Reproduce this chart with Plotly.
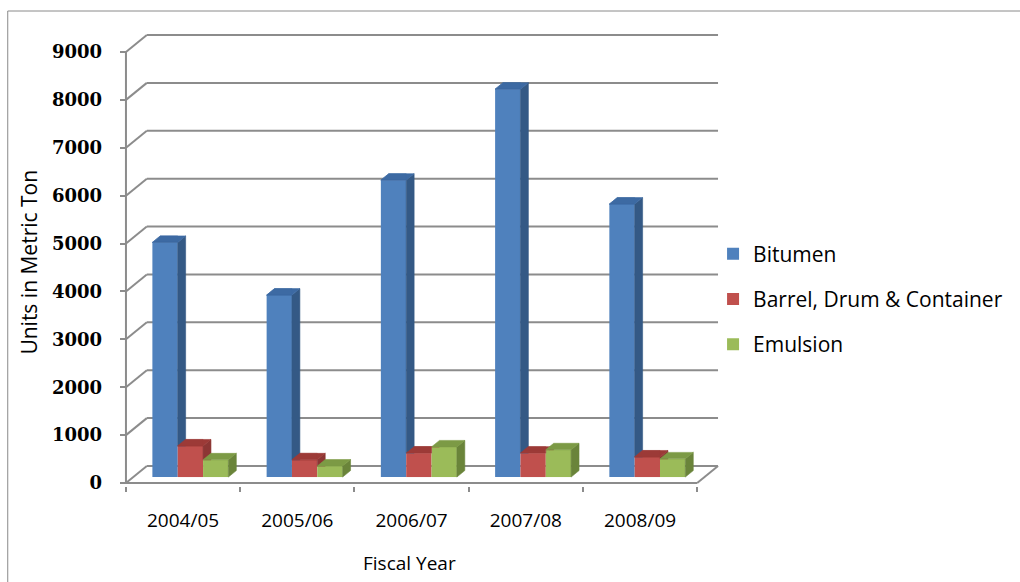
import plotly.graph_objects as go

# ---------------- data ----------------
years = ["2004/05", "2005/06", "2006/07", "2007/08", "2008/09"]
series_names = ["Bitumen", "Barrel, Drum & Container", "Emulsion"]
bitumen = [4900, 3800, 6200, 8100, 5700]
barrel = [650, 360, 500, 500, 420]
emulsion = [360, 230, 630, 570, 380]
y_ticks = [0, 1000, 2000, 3000, 4000, 5000, 6000, 7000, 8000, 9000]

series_values = [bitumen, barrel, emulsion]

# ---------------- style / geometry ----------------
front_col = ["#4F81BD", "#C0504D", "#9BBB59"]
side_col = ["#345985", "#8C3634", "#6A843A"]
top_col = ["#3D6AA3", "#9C3A37", "#7C9A45"]
grid_col = "#8C8C8C"

PX_CAT = 115.0                 # pixels per category
U = 9000.0 / 431.0             # value units per pixel (front plane)
DX = 21.0 / PX_CAT             # full depth offset (x units)
DY = 17.0 * U                  # full depth offset (y units)
F0 = 0.35                      # bar front depth fraction
FD = 0.38                      # bar depth fraction
W = 25.5 / PX_CAT              # bar width
n_cat = len(years)

XMIN, XMAX = -6.0 / PX_CAT, 600.0 / PX_CAT
YMIN, YMAX = -3.0 * U, 453.0 * U

fig = go.Figure()


def clip_half(poly, axis, val, keep_less):
    out = []
    n = len(poly)
    for k in range(n):
        P = poly[k]
        Q = poly[(k + 1) % n]
        pin = P[axis] <= val if keep_less else P[axis] >= val
        qin = Q[axis] <= val if keep_less else Q[axis] >= val
        if pin:
            out.append(P)
        if pin != qin:
            t = (val - P[axis]) / (Q[axis] - P[axis])
            out.append((P[0] + t * (Q[0] - P[0]), P[1] + t * (Q[1] - P[1])))
    return out


def area(poly):
    s = 0.0
    for k in range(len(poly)):
        a = poly[k]
        b = poly[(k + 1) % len(poly)]
        s += a[0] * b[1] - b[0] * a[1]
    return abs(s) / 2


b0 = F0 * DY
dx = FD * DX
dy = FD * DY

# front faces: real bars
for j, (name, vals) in enumerate(zip(series_names, series_values)):
    xs = [i + 0.5 + (j - 1) * W + F0 * DX for i in range(n_cat)]
    fig.add_trace(go.Bar(
        x=xs, y=vals, base=[b0] * n_cat, width=[W] * n_cat,
        name=name, legendgroup=name,
        marker=dict(color=front_col[j], line=dict(width=0)),
        hoverinfo="skip",
    ))

# side and top faces (drawn in painter order)
for j, vals in enumerate(series_values):
    sx, sy, tx, ty = [], [], [], []
    for i in range(n_cat):
        x0 = i + 0.5 + (j - 1.5) * W + F0 * DX
        x1 = x0 + W
        top = b0 + vals[i]
        side = [(x1, b0), (x1 + dx, b0 + dy), (x1 + dx, top + dy), (x1, top)]
        topf = [(x0, top), (x0 + dx, top + dy), (x1 + dx, top + dy), (x1, top)]
        pieces_side = [side]
        pieces_top = [topf]
        if j < len(series_values) - 1:
            ntop = b0 + series_values[j + 1][i]
            nx0 = x1
            pieces_side = [clip_half(side, 1, ntop, False)]
            pieces_top = [clip_half(topf, 0, nx0, True), clip_half(topf, 1, ntop, False)]
        for poly in pieces_side:
            if len(poly) >= 3 and area(poly) > 1e-9:
                sx += [p[0] for p in poly] + [poly[0][0], None]
                sy += [p[1] for p in poly] + [poly[0][1], None]
        for poly in pieces_top:
            if len(poly) >= 3 and area(poly) > 1e-9:
                tx += [p[0] for p in poly] + [poly[0][0], None]
                ty += [p[1] for p in poly] + [poly[0][1], None]
    fig.add_trace(go.Scatter(x=sx, y=sy, mode="lines", fill="toself",
                             fillcolor=side_col[j], line=dict(color=side_col[j], width=0.6),
                             showlegend=False, hoverinfo="skip"))
    fig.add_trace(go.Scatter(x=tx, y=ty, mode="lines", fill="toself",
                             fillcolor=top_col[j], line=dict(color=top_col[j], width=0.6),
                             showlegend=False, hoverinfo="skip"))

# dummy trace for label axis
fig.add_trace(go.Scatter(x=[None], y=[None], xaxis="x2", showlegend=False, hoverinfo="skip"))

# walls / gridlines
shapes = []
for t in y_ticks:
    shapes.append(dict(type="line", xref="x", yref="y", x0=0, y0=t, x1=DX, y1=t + DY,
                       line=dict(color=grid_col, width=2), layer="below"))
    shapes.append(dict(type="line", xref="x", yref="y", x0=DX, y0=t + DY, x1=n_cat + DX, y1=t + DY,
                       line=dict(color=grid_col, width=2), layer="below"))
# floor front edge and right edge
shapes.append(dict(type="line", xref="x", yref="y", x0=0, y0=0, x1=n_cat, y1=0,
                   line=dict(color=grid_col, width=2), layer="below"))
shapes.append(dict(type="line", xref="x", yref="y", x0=n_cat, y0=0, x1=n_cat + DX, y1=DY,
                   line=dict(color=grid_col, width=2), layer="below"))
# front vertical axis line
shapes.append(dict(type="line", xref="x", yref="y", x0=0, y0=0, x1=0, y1=y_ticks[-1],
                   line=dict(color=grid_col, width=2), layer="below"))
# chart border
shapes.append(dict(type="rect", xref="paper", yref="paper", x0=(7 - 120) / 606.0, x1=2.0,
                   y0=-0.5, y1=(486 - 11) / 456.0, line=dict(color="#8A8A8A", width=1),
                   fillcolor="rgba(0,0,0,0)", layer="below"))

sans = "Open Sans"

fig.update_layout(
    width=1020, height=582,
    margin=dict(l=120, r=294, t=30, b=96),
    paper_bgcolor="white", plot_bgcolor="white",
    barmode="overlay",
    shapes=shapes,
    showlegend=True,
    legend=dict(x=(717 - 120) / 606.0, xanchor="left", y=(486 - 299) / 456.0, yanchor="middle",
                font=dict(family=sans, size=21, color="black"), tracegroupgap=15,
                bgcolor="rgba(0,0,0,0)"),
    xaxis=dict(range=[XMIN, XMAX], showgrid=False, zeroline=False, showline=False,
               tickmode="array", tickvals=list(range(n_cat + 1)), ticktext=[""] * (n_cat + 1),
               ticks="outside", ticklen=5, tickwidth=2, tickcolor=grid_col, fixedrange=True),
    xaxis2=dict(range=[XMIN, XMAX], overlaying="x", side="bottom", anchor="y",
                showgrid=False, zeroline=False, showline=False,
                tickmode="array", tickvals=[i + 0.5 for i in range(n_cat)], ticktext=years,
                ticks="", ticklabelstandoff=21,
                tickfont=dict(family=sans, size=19, color="black")),
    yaxis=dict(range=[YMIN, YMAX], showgrid=False, zeroline=False, showline=False,
               tickmode="array", tickvals=y_ticks, ticktext=[str(v) for v in y_ticks],
               ticks="inside", ticklen=6, tickwidth=2, tickcolor=grid_col,
               ticklabelstandoff=17,
               tickfont=dict(family="DejaVu Serif", size=18, color="black", weight="bold")),
    annotations=[
        dict(text="Fiscal Year", xref="x", yref="paper", x=n_cat / 2.0 - 0.02, y=(486 - 563) / 456.0,
             xanchor="center", yanchor="middle", showarrow=False,
             font=dict(family=sans, size=19, color="black")),
        dict(text="Units in Metric Ton", xref="paper", yref="paper", x=(28 - 120) / 606.0,
             y=(486 - 262) / 456.0, xanchor="center", yanchor="middle", textangle=-90,
             showarrow=False, font=dict(family=sans, size=21, color="black")),
    ],
)

fig.write_html("out.html")
